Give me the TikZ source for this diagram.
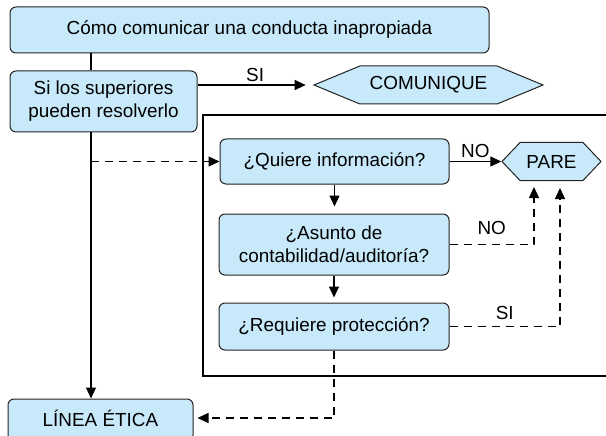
\documentclass[tikz,border=0pt]{standalone}
\usepackage{fontspec}
\setmainfont{Liberation Sans}
\usetikzlibrary{arrows.meta}
\usetikzlibrary{shapes.symbols}
\definecolor{celeste}{RGB}{199,233,249}
\definecolor{borde}{RGB}{35,35,35}

\begin{document}
\begin{tikzpicture}[x=1pt,y=-1pt,
  caja/.style={draw=borde,fill=celeste,line width=1pt,rounded corners=6pt,inner sep=0pt,align=center,font=\fontsize{18.9}{23}\selectfont},
  hexa/.style={draw=borde,fill=celeste,line width=1pt,shape=signal,signal to=west and east,inner sep=0pt,font=\fontsize{18.9}{23}\selectfont},
  flecha/.style={line width=1.1pt,-{Triangle[length=11pt,width=10pt]}},
  rayas/.style={dash pattern=on 8pt off 6pt},
  etiqueta/.style={font=\fontsize{18.9}{23}\selectfont,inner sep=1pt}]
\useasboundingbox (0,0) rectangle (606,436);

\draw[line width=2.7pt] (203,115) rectangle (640,376);

\node[caja,minimum width=479,minimum height=46] (T) at (249.5,30) {Cómo comunicar una conducta inapropiada};
\node[caja,minimum width=187,minimum height=61] (S) at (103.5,101.5) {Si los superiores\\pueden resolverlo};
\node[hexa,minimum width=229,minimum height=38,signal pointer angle=45] (C) at (428.5,85) {COMUNIQUE};
\node[caja,minimum width=229,minimum height=45] (Q) at (334.5,161.5) {¿Quiere información?};
\node[caja,minimum width=230,minimum height=61] (A) at (334,244.5) {¿Asunto de\\contabilidad/auditoría?};
\node[caja,minimum width=230,minimum height=47] (R) at (334,326.5) {¿Requiere protección?};
\node[hexa,minimum width=99,minimum height=38,signal pointer angle=93] (P) at (551.5,161.5) {PARE};
\node[caja,minimum width=185,minimum height=42,text depth=4pt] (L) at (100.5,420) {LÍNEA ÉTICA};

\coordinate (t) at (91,0);
\coordinate (p1) at ([xshift=-17.5pt,yshift=-6pt]P.south);
\coordinate (p2) at ([xshift=8.5pt,yshift=-7pt]P.south);

\draw[line width=1.1pt] (T.south -| t) -- (S.north -| t);
\draw[flecha] (S.south -| t) -- (L.north -| t);
\draw[flecha,rayas] (t |- Q) -- (Q.west);
\draw[flecha,shorten >=7pt] (S.east |- C) -- (C.west) node[etiqueta,midway,above=2pt] {SI};
\draw[flecha] (Q.east) -- (P.west) node[etiqueta,midway,above=2pt] {NO};
\draw[flecha,shorten >=7pt] (Q.south) -- (Q.south |- A.north);
\draw[flecha,shorten >=5pt] (A.south) -- (A.south |- R.north);
\draw[flecha,rayas] (A.east) -| (p1) node[etiqueta,pos=0.25,above=8pt] {NO};
\draw[flecha,rayas] (R.east) -| (p2) node[etiqueta,pos=0.25,above=5pt] {SI};
\draw[flecha,rayas,shorten >=4pt] (R.south) |- (L.east |- 0,418);

\end{tikzpicture}
\end{document}
